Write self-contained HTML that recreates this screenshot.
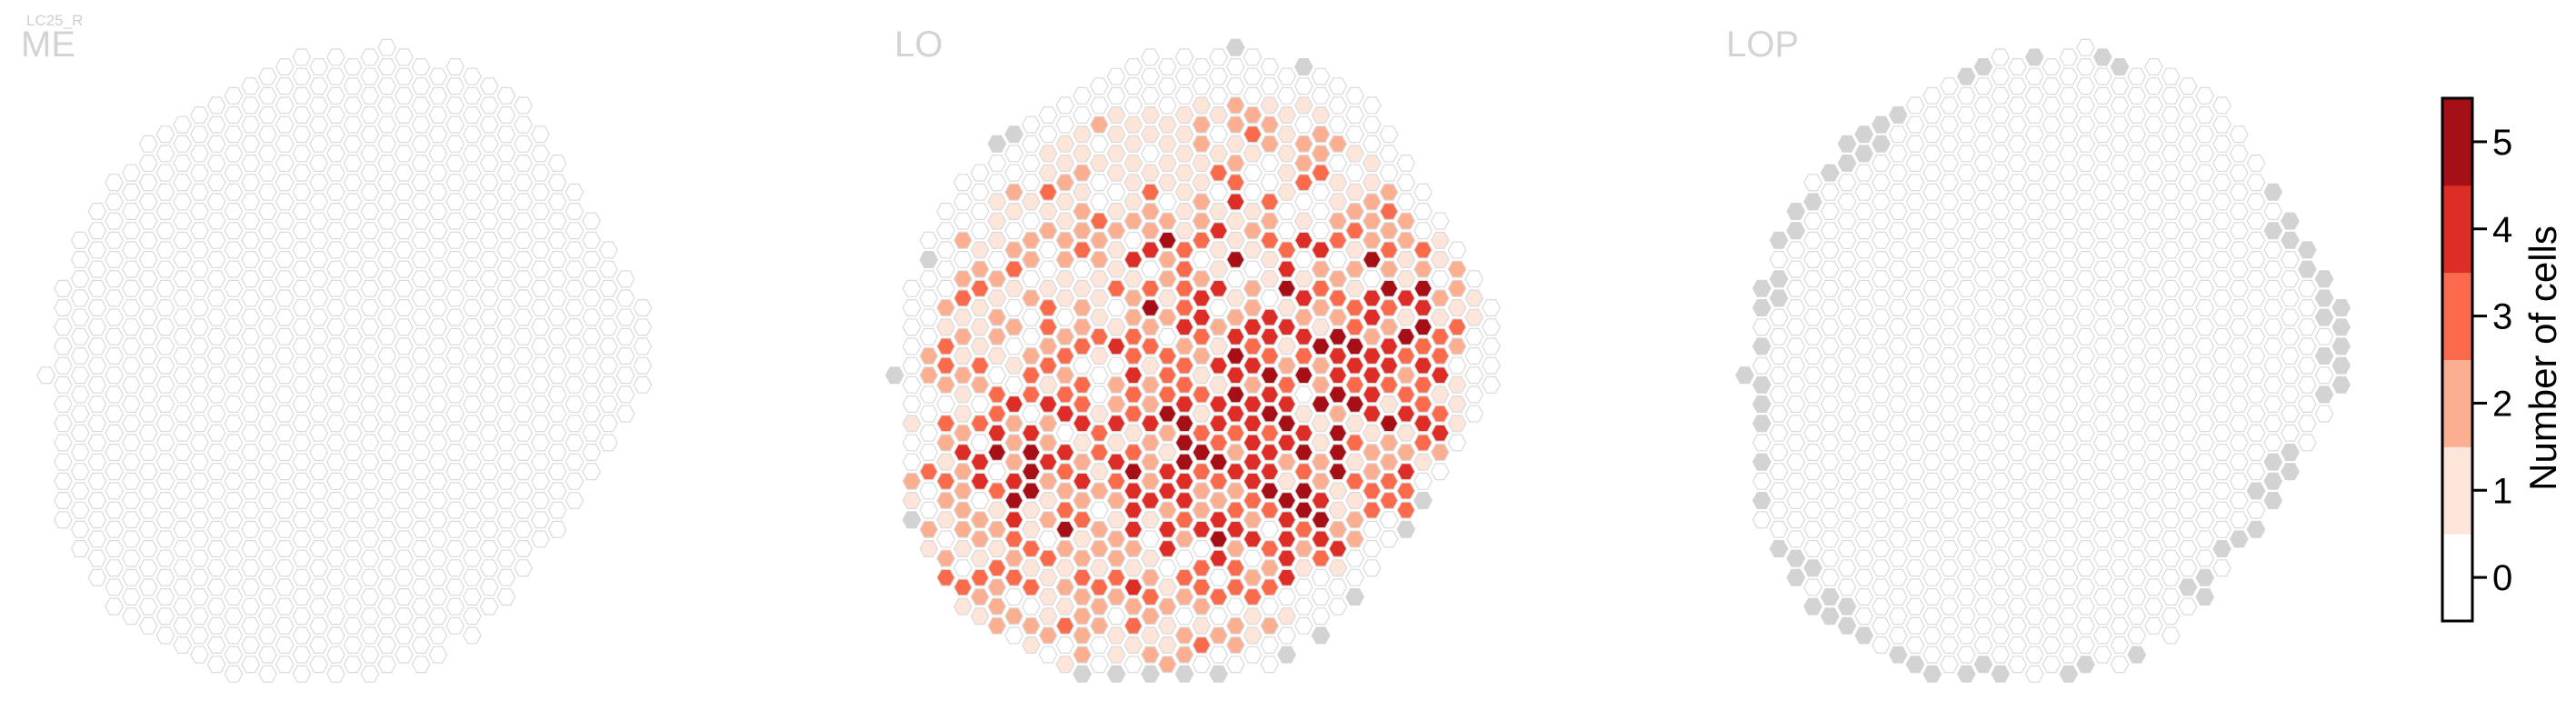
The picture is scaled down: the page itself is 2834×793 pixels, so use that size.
<!DOCTYPE html>
<html>
<head>
<meta charset="utf-8">
<style>
html,body{margin:0;padding:0;background:#fff;}
body{width:2834px;height:793px;overflow:hidden;font-family:"Liberation Sans",sans-serif;}
svg{display:block;}
</style>
</head>
<body>
<svg id="chart" width="2834" height="793" viewBox="0 0 2834 793" xmlns="http://www.w3.org/2000/svg">
  <text x="29" y="28" font-size="17" fill="#cfcfcf" font-family="Liberation Sans, sans-serif">LC25_R</text>
  <text x="23" y="62" font-size="40" fill="#d3d3d3" font-family="Liberation Sans, sans-serif">ME</text>
  <text x="984" y="62" font-size="40" fill="#d3d3d3" font-family="Liberation Sans, sans-serif">LO</text>
  <text x="1899" y="62" font-size="40" fill="#d3d3d3" font-family="Liberation Sans, sans-serif">LOP</text>
  <g id="panels"></g>
  <g id="colorbar"></g>
</svg>
<script>
// ---- data ----
const colStart = [-20];
const colHmin = [34,25,20,17,14,13,10,9,8,7,6,5,4,3,2,1,2,1,2,1,0,1,2,3,2,3,4,5,6,9,12,15,18,21,24,27];
const loValues = [
"g",
"000000010021g",
"0g000022000030021",
"00000213320321321023",
"00020231212112422221031",
"000012311132030440221321",
"g0011102122103345031213222",
"g00210231020104222454323020",
"0000102202002330455511313021",
"00113120013323142242120311120",
"001121122110232340432352121301",
"001121223012230334124231232222g",
"0020100322111310013312022132200",
"0011110121130140224143212232011g",
"00011111204122334331354442142310",
"00011013224035231224222410123212g",
"00011110252212033352144244012112",
"00011111113333423345554432032022g",
"00122112230244321313532240332130",
"00010130141140214144353245403020g",
"g00221234115012454543242342330220",
"00023100121022434244444324023110",
"00122003231104435453445303230200",
"001111100345141234542154444010g",
"g01022301401424350145355321000",
"00122300042321522511224543000g",
"0002011230232544525551124100",
"00010123121335435131312200g",
"0001122250442444412233000",
"0002323253244315223300",
"0002211415323412433g",
"0003254534334310g",
"01102133413420",
"02213201110",
"01100000",
"00000"
];
const lopGrayCol = [-3,1,2,-6,-7,-11,-12,-13,-14,-12,-13,-14,-15,-16,-17,-17,-18,-18,-19,-18,-19,-19,-20,-19,-19,-19,-19,-19,-18,-17,-16,-17,-15,-16,-14,-15,-14,-13,-11,-10,-9,-7,-6,-5,-1,0,3,7,6,7,8,9,10,10,11,11,11,12,12,14,14,15,15,15,15,15,14,14,14,13,13,12,12,11,11];
const lopGrayH   = [1,1,2,2,3,7,8,9,10,10,11,12,13,16,17,19,20,24,25,26,27,31,34,35,37,39,43,47,52,53,54,55,57,58,58,59,60,61,63,64,65,65,64,65,65,64,63,55,56,57,52,51,50,46,47,45,43,44,42,36,32,33,35,31,29,27,28,26,24,23,21,20,18,19,15];
const cbTicks = [0,1,2,3,4,5];
const cbTickLabels = ["0","1","2","3","4","5"];
const cbColors = ["#ffffff","#fee5d9","#fcae91","#fb6a4a","#de2d26","#a50f15"];

// ---- geometry ----
const NS = "http://www.w3.org/2000/svg";
const DX = 18.75, DY = 10.6, Y0 = 52.3;
const panelOX = {me:425.7, lo:1359.3, lop:2294.5};
function hexPts(x,y){
  const a=9.7,b=4.85,h=8.9;
  return [[x-a,y],[x-b,y-h],[x+b,y-h],[x+a,y],[x+b,y+h],[x-b,y+h]].map(p=>p[0].toFixed(1)+","+p[1].toFixed(1)).join(" ");
}
const lopGraySet = new Set(lopGrayCol.map((c,i)=>c+":"+lopGrayH[i]));
const panels = document.getElementById("panels");
function drawPanel(key){
  const g = document.createElementNS(NS,"g");
  
  
  const ox = panelOX[key];
  for(let i=0;i<colHmin.length;i++){
    const c = colStart[0]+i;
    const vals = loValues[i];
    for(let k=0;k<vals.length;k++){
      const h = colHmin[i]+2*k;
      let fill="#ffffff";
      if(key==="lo"){
        const v = vals[k];
        fill = v==="g" ? "#d3d3d3" : cbColors[+v];
      } else if(key==="lop"){
        if(lopGraySet.has(c+":"+h)) fill="#d3d3d3";
      }
      const p = document.createElementNS(NS,"polygon");
      p.setAttribute("points", hexPts(ox+c*DX, Y0+h*DY));
      p.setAttribute("fill", fill);
      p.setAttribute("stroke", fill==="#d3d3d3" ? "#d3d3d3" : "#dadada");
      p.setAttribute("stroke-width", "1.2");
      
      
      g.appendChild(p);
    }
  }
  panels.appendChild(g);
}
drawPanel("me"); drawPanel("lo"); drawPanel("lop");

// ---- colorbar ----
const cb = document.getElementById("colorbar");
const cbX=2687, cbW=33, cbTop=108, cbBot=683;
const segH=(cbBot-cbTop)/cbColors.length;
function cbY(v){ return cbBot - (v+0.5)*segH; }
cbColors.forEach((col,i)=>{
  const r=document.createElementNS(NS,"rect");
  r.setAttribute("x",cbX); r.setAttribute("y",(cbBot-(i+1)*segH).toFixed(1));
  r.setAttribute("width",cbW); r.setAttribute("height",(segH+0.5).toFixed(1));
  r.setAttribute("fill",col);
  
  
  cb.appendChild(r);
});
const frame=document.createElementNS(NS,"rect");
frame.setAttribute("x",cbX); frame.setAttribute("y",cbTop);
frame.setAttribute("width",cbW); frame.setAttribute("height",cbBot-cbTop);
frame.setAttribute("fill","none"); frame.setAttribute("stroke","#000"); frame.setAttribute("stroke-width","3");


cb.appendChild(frame);
cbTicks.forEach((t,i)=>{
  const y=cbY(t);
  const l=document.createElementNS(NS,"line");
  l.setAttribute("x1",cbX+cbW); l.setAttribute("x2",cbX+cbW+16);
  l.setAttribute("y1",y); l.setAttribute("y2",y);
  l.setAttribute("stroke","#000"); l.setAttribute("stroke-width","3");
  
  
  cb.appendChild(l);
  const tx=document.createElementNS(NS,"text");
  tx.setAttribute("x",cbX+cbW+22); tx.setAttribute("y",y+14);
  tx.setAttribute("font-size","40"); tx.setAttribute("font-family","Liberation Sans, sans-serif");
  tx.setAttribute("fill","#000");
  tx.textContent=cbTickLabels[i];
  
  
  cb.appendChild(tx);
});
const title=document.createElementNS(NS,"text");
title.setAttribute("transform","translate(2812,394) rotate(-90)");
title.setAttribute("text-anchor","middle");
title.setAttribute("font-size","42"); title.setAttribute("font-family","Liberation Sans, sans-serif");
title.setAttribute("fill","#000");
title.textContent="Number of cells";


cb.appendChild(title);
</script>
</body>
</html>
